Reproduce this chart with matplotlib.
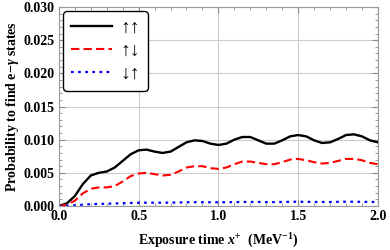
import matplotlib
matplotlib.use("Agg")
import matplotlib.pyplot as plt
from matplotlib.ticker import MultipleLocator

plt.rcParams['font.family'] = ['Liberation Serif', 'DejaVu Serif']
plt.rcParams['font.weight'] = 'bold'
plt.rcParams['mathtext.fontset'] = 'custom'
plt.rcParams['mathtext.rm'] = 'Liberation Serif:bold'
plt.rcParams['mathtext.it'] = 'Liberation Serif:italic:bold'
plt.rcParams['mathtext.bf'] = 'Liberation Serif:bold'

# exposure time x+ (MeV^-1)
x = [0.00, 0.05, 0.10, 0.15, 0.20, 0.25, 0.30, 0.35, 0.40, 0.45,
     0.50, 0.55, 0.60, 0.65, 0.70, 0.75, 0.80, 0.85, 0.90, 0.95,
     1.00, 1.05, 1.10, 1.15, 1.20, 1.25, 1.30, 1.35, 1.40, 1.45,
     1.50, 1.55, 1.60, 1.65, 1.70, 1.75, 1.80, 1.85, 1.90, 1.95, 2.00]

up_up = [0.0000, 0.0004, 0.0015, 0.0033, 0.0046, 0.0050, 0.0052, 0.0058, 0.0068, 0.0078,
         0.0084, 0.0085, 0.0082, 0.0080, 0.0082, 0.0089, 0.0096, 0.0099, 0.0098, 0.0094,
         0.0092, 0.0094, 0.0100, 0.0104, 0.0104, 0.0099, 0.0094, 0.0094, 0.0099, 0.0105,
         0.0107, 0.0105, 0.0099, 0.0095, 0.0096, 0.0101, 0.0107, 0.0108, 0.0105, 0.0099, 0.0096]

up_down = [0.0000, 0.0002, 0.0008, 0.0019, 0.0026, 0.0028, 0.0028, 0.0030, 0.0037, 0.0045,
           0.0049, 0.0050, 0.0048, 0.0046, 0.0047, 0.0052, 0.0058, 0.0060, 0.0060, 0.0057,
           0.0056, 0.0058, 0.0063, 0.0067, 0.0067, 0.0065, 0.0063, 0.0063, 0.0066, 0.0070,
           0.0071, 0.0069, 0.0066, 0.0064, 0.0065, 0.0068, 0.0071, 0.0071, 0.0069, 0.0065, 0.0063]

down_up = [0.00000, 0.00003, 0.00010, 0.00020, 0.00027, 0.00031, 0.00034, 0.00038, 0.00042, 0.00046,
           0.00049, 0.00050, 0.00050, 0.00050, 0.00051, 0.00053, 0.00056, 0.00057, 0.00057, 0.00056,
           0.00056, 0.00057, 0.00059, 0.00061, 0.00061, 0.00060, 0.00059, 0.00059, 0.00061, 0.00063,
           0.00064, 0.00063, 0.00061, 0.00060, 0.00061, 0.00063, 0.00064, 0.00064, 0.00063, 0.00061, 0.00060]

labels = ['↑↑', '↑↓', '↓↑']

fig = plt.figure(figsize=(3.9, 2.5), dpi=100)
ax = fig.add_axes([0.151, 0.176, 0.818, 0.796])

ax.plot(x, up_up, color='black', lw=1.7, label=labels[0])
ax.plot(x, up_down, color='red', lw=1.5, ls=(0, (4, 2)), label=labels[1])
ax.plot(x, down_up, color='blue', lw=1.6, ls=(0, (1.2, 2.0)), label=labels[2])

ax.set_xlim(0, 2.0)
ax.set_ylim(0, 0.030)
ax.xaxis.set_major_locator(MultipleLocator(0.5))
ax.xaxis.set_minor_locator(MultipleLocator(0.1))
ax.yaxis.set_major_locator(MultipleLocator(0.005))
ax.yaxis.set_minor_locator(MultipleLocator(0.001))
ax.xaxis.set_major_formatter(plt.FormatStrFormatter('%.1f'))
ax.yaxis.set_major_formatter(plt.FormatStrFormatter('%.3f'))

ax.grid(True, which='major', color='#cccccc', lw=0.8)
ax.tick_params(which='both', direction='in', top=True, right=True, color='#888888',
               labelsize=10, pad=3)
ax.tick_params(which='major', length=4)
ax.tick_params(which='minor', length=2)
for s in ax.spines.values():
    s.set_color('#999999')

ax.set_xlabel('Exposure time $x^{+}$  (MeV$^{-1}$)', fontsize=10, fontweight='bold', labelpad=6)
ax.set_ylabel('Probability to find e−$\\gamma$ states', fontsize=10, fontweight='bold', labelpad=2)

leg = ax.legend(loc='upper left', fontsize=14, handlelength=2.15, handletextpad=0.4,
                borderpad=0.4, labelspacing=0.3, borderaxespad=0, fancybox=True,
                framealpha=1, edgecolor='black', bbox_to_anchor=(0.0125, 0.98))
leg.get_frame().set_linewidth(1.0)

fig.savefig('out.png', dpi=100)
